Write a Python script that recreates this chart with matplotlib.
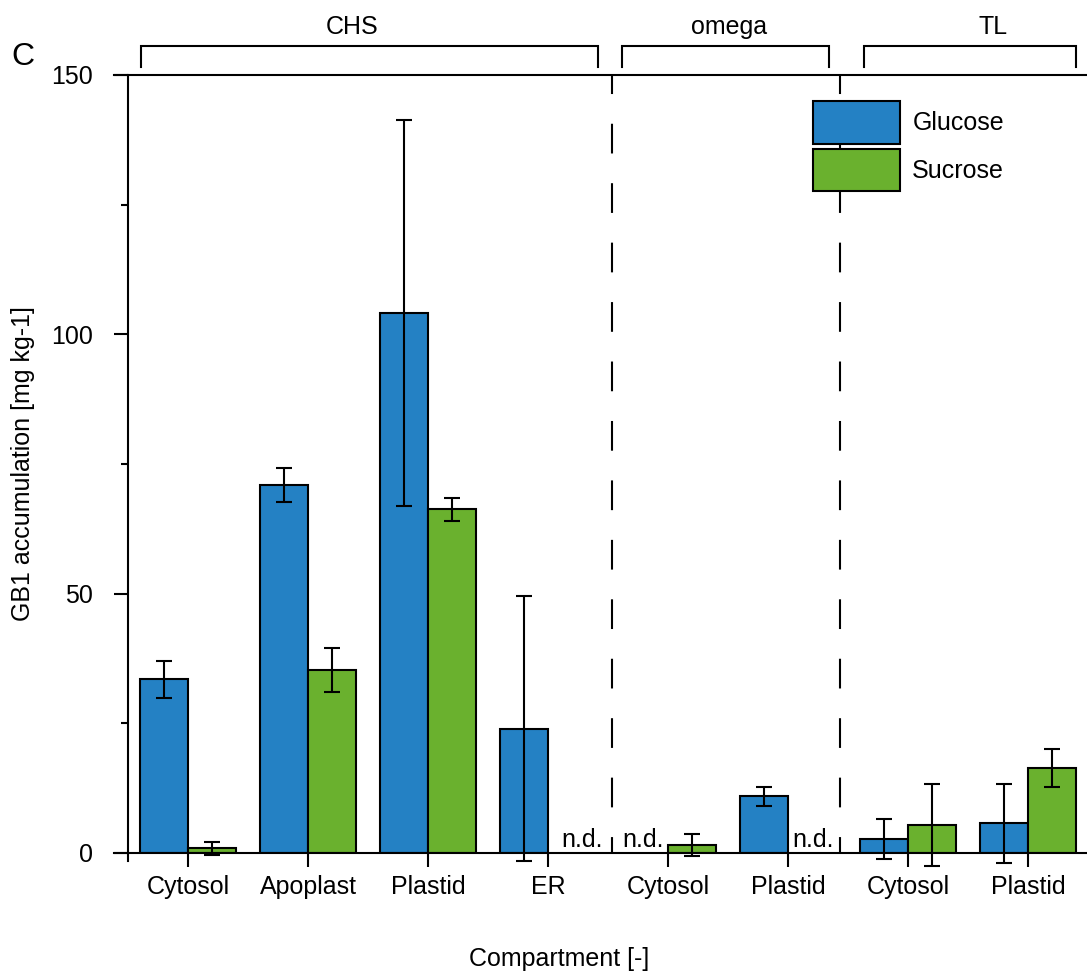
import numpy as np
import matplotlib
matplotlib.use("Agg")
import matplotlib.pyplot as plt

plt.rcParams['font.family'] = ['Liberation Sans', 'DejaVu Sans']
plt.rcParams['lines.scale_dashes'] = False

# ---------------- data ----------------
compartments = ['Cytosol', 'Apoplast', 'Plastid', 'ER', 'Cytosol', 'Plastid', 'Cytosol', 'Plastid']
glucose     = [33.5, 71.0, 104.1, 24.0, np.nan, 10.9, 2.7, 5.7]
glucose_err = [3.6, 3.3, 37.2, 25.6, np.nan, 1.9, 3.9, 7.6]
sucrose     = [0.9, 35.3, 66.3, np.nan, 1.5, np.nan, 5.4, 16.4]
sucrose_err = [1.3, 4.3, 2.2, np.nan, 2.1, np.nan, 7.9, 3.7]
constructs = ['CHS', 'omega', 'TL']
construct_span = [(-0.39, 3.42), (3.62, 5.34), (5.63, 7.40)]
construct_label_x = [1.37, 4.51, 6.71]
separators = [3.536, 5.433]
nd_x = [3.28, 3.79, 5.21]
yticks_major = [0, 50, 100, 150]
yticks_minor = [25, 75, 125]

blue = '#2481C4'
green = '#6AB12E'
W, H = 1087, 974
fs = 18
lw = 1.5

fig = plt.figure(figsize=(W / 100, H / 100), dpi=100)
ax = fig.add_axes([128 / W, (H - 853) / H, 960 / W, 778 / H])
x = np.arange(len(compartments))
bw = 0.4

ax.set_xlim(-0.5, 7.5)
ax.set_ylim(0, 150)
for s in ax.spines.values():
    s.set_visible(False)

g = np.array(glucose); ge = np.array(glucose_err)
su = np.array(sucrose); se = np.array(sucrose_err)
mg = ~np.isnan(g); ms = ~np.isnan(su)

ax.bar(x[mg] - bw / 2, g[mg], bw, color=blue, edgecolor='black', linewidth=lw,
       label='Glucose', zorder=2)
ax.bar(x[ms] + bw / 2, su[ms], bw, color=green, edgecolor='black', linewidth=lw,
       label='Sucrose', zorder=2)

for xs, ys, es in [(x[mg] - bw / 2, g[mg], ge[mg]), (x[ms] + bw / 2, su[ms], se[ms])]:
    cont = ax.errorbar(xs, ys, yerr=es, fmt='none', ecolor='black', elinewidth=lw,
                       capsize=6, capthick=lw, zorder=3)
    for art in cont.lines[1] + cont.lines[2]:
        art.set_clip_on(False)

# axis lines
ax.axhline(0, xmin=-14 / 960, xmax=1, color='black', lw=lw, clip_on=False, zorder=4)
ax.axhline(150, xmin=-14 / 960, xmax=1, color='black', lw=lw, clip_on=False, zorder=4)
ax.axvline(-0.5, ymin=-8 / 778, ymax=1, color='black', lw=lw, clip_on=False, zorder=4)

# separators
for sx in separators:
    ax.plot([sx, sx], [150, 0], color='black', lw=lw,
            linestyle=(7.7, (21.4, 21.4)), zorder=1, clip_on=False)

# ticks
ax.set_yticks(yticks_major)
ax.set_yticks(yticks_minor, minor=True)
ax.set_xticks(x)
ax.set_xticklabels(compartments)
ax.tick_params(axis='y', which='major', length=10, width=lw, pad=15, labelsize=fs)
ax.tick_params(axis='y', which='minor', length=5, width=lw)
ax.tick_params(axis='x', which='major', length=10, width=lw, pad=6, labelsize=fs)

# n.d.
for nx in nd_x:
    ax.text(nx, 1.2, 'n.d.', ha='center', va='baseline', fontsize=fs)

# construct brackets
for name, (x0, x1), lx in zip(constructs, construct_span, construct_label_x):
    ax.plot([x0, x0, x1, x1], [151.5, 155.6, 155.6, 151.5], color='black', lw=lw,
            clip_on=False, solid_joinstyle='miter')
    ax.text(lx, 157.9, name, ha='center', va='baseline', fontsize=fs)

# legend
ax.legend(loc='upper left', bbox_to_anchor=((813 - 128) / 960, (853 - 101) / 778),
          frameon=False, fontsize=fs, handlelength=3.49, handleheight=2.25,
          labelspacing=0.2, handletextpad=0.48, borderpad=0, borderaxespad=0)

# labels
fig.text(23 / W, 1 - 464 / H, 'GB1 accumulation [mg kg-1]', rotation=90,
         ha='center', va='center', fontsize=fs)
fig.text(559 / W, 1 - 966 / H, 'Compartment [-]', ha='center', va='baseline', fontsize=fs)
fig.text(11 / W, 1 - 65 / H, 'C', ha='left', va='baseline', fontsize=23)

fig.savefig('out.png', dpi=100)
